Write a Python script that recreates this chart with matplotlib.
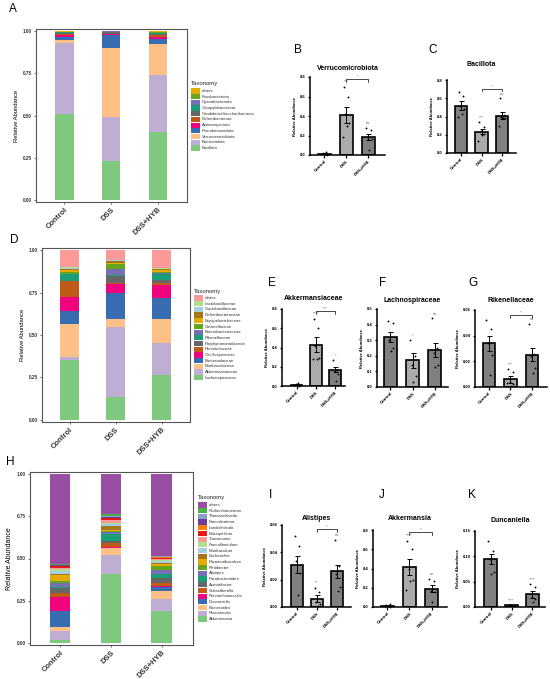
import numpy as np
import matplotlib.pyplot as plt
from matplotlib.patches import Rectangle

plt.rcParams['font.family'] = ['Liberation Sans', 'DejaVu Sans']

W, H = 550, 679
fig = plt.figure(figsize=(W / 100, H / 100), dpi=100)


def box(l, t, r, b):
    # pixel box -> figure fraction
    return [l / W, 1 - b / H, (r - l) / W, (b - t) / H]


groups = ['Control', 'DSS', 'DSS+HYB']

# ---- stacked composition data (bottom -> top) ----
phylum_taxa = ['Bacillota', 'Bacteroidota', 'Verrucomicrobiota', 'Pseudomonadota',
               'Actinomycetota', 'Deferribacterota', 'CandidatusSaccharibacteria',
               'Campylobacterota', 'Cyanobacteriota', 'Fusobacteriota', 'others']
phylum_ctrl = [0.51, 0.42, 0.015, 0.02, 0.01, 0.008, 0.005, 0.004, 0.003, 0.002, 0.003]
phylum_dss = [0.23, 0.26, 0.41, 0.075, 0.006, 0.004, 0.008, 0.003, 0.002, 0.001, 0.001]
phylum_hyb = [0.40, 0.34, 0.185, 0.03, 0.012, 0.008, 0.005, 0.008, 0.002, 0.002, 0.008]

family_taxa = ['Lachnospiraceae', 'Akkermansiaceae', 'Muribaculaceae', 'Bacteroidaceae',
               'Oscillospiraceae', 'Prevotellaceae', 'Porphyromonadaceae', 'Rikenellaceae',
               'Enterobacteriaceae', 'Sutterellaceae', 'Erysipelotrichaceae',
               'Deferribacteraceae', 'Coprobacillaceae', 'Lactobacillaceae', 'others']
family_ctrl = [0.355, 0.015, 0.195, 0.078, 0.078, 0.094, 0.005, 0.037, 0.003, 0.008,
               0.015, 0.008, 0.004, 0.005, 0.10]
family_dss = [0.135, 0.415, 0.045, 0.155, 0.05, 0.008, 0.04, 0.008, 0.03, 0.03,
              0.01, 0.008, 0.006, 0.004, 0.056]
family_hyb = [0.265, 0.187, 0.145, 0.12, 0.077, 0.011, 0.02, 0.033, 0.005, 0.006,
              0.012, 0.005, 0.004, 0.003, 0.107]

genus_taxa = ['Akkermansia', 'Phocaeicola', 'Bacteroides', 'Duncaniella', 'Prevotellamassilia',
              'Schaedlerella', 'Acetatifactor', 'Parabacteroides', 'Alistipes', 'Flintibacter',
              'Paramuribaculum', 'Escherichia', 'Muribaculum', 'Faecalibaculum', 'Turicimonas',
              'Mucispirillum', 'Laedolimicola', 'Faecalicatena', 'Thomasclavelia',
              'Ruthenibacterium', 'others']
genus_ctrl = [0.015, 0.055, 0.022, 0.095, 0.085, 0.022, 0.03, 0.005, 0.028, 0.01, 0.035,
              0.005, 0.018, 0.012, 0.008, 0.008, 0.004, 0.003, 0.003, 0.002, 0.535]
genus_dss = [0.41, 0.113, 0.037, 0.003, 0.003, 0.025, 0.01, 0.045, 0.008, 0.01, 0.006,
             0.025, 0.008, 0.006, 0.02, 0.008, 0.004, 0.006, 0.007, 0.01, 0.236]
genus_hyb = [0.19, 0.07, 0.045, 0.028, 0.002, 0.02, 0.028, 0.026, 0.023, 0.023, 0.012,
             0.005, 0.012, 0.008, 0.004, 0.006, 0.004, 0.003, 0.004, 0.002, 0.485]

# colours
base_cols = ['#7FC97F', '#BEAED4', '#FDC086', '#386CB0', '#F0027F', '#BF5B17', '#666666',
             '#1B9E77', '#7570B3', '#66A61E', '#E6AB02', '#A6761D']
phylum_cols = base_cols[:11]
family_cols = base_cols + ['#A6CEE3', '#B2DF8A', '#FB9A99']
genus_cols = base_cols + ['#A6CEE3', '#B2DF8A', '#FB9A99', '#E31A1C', '#FF7F00',
                          '#6A3D9A', '#8DA0CB', '#4DAF4A', '#984EA3']

# ---- bar panel data: means, SEM, individual points ----
verru_mean = [0.015, 0.41, 0.185]
verru_sem = [0.006, 0.085, 0.035]
verru_pts = [[0.01, 0.03, 0.02, 0.005, 0.015],
             [0.70, 0.60, 0.42, 0.33, 0.30, 0.18],
             [0.28, 0.26, 0.17, 0.16, 0.05]]

bacil_mean = [0.52, 0.235, 0.41]
bacil_sem = [0.05, 0.03, 0.04]
bacil_pts = [[0.67, 0.62, 0.52, 0.48, 0.43, 0.40],
             [0.34, 0.28, 0.24, 0.21, 0.20, 0.13],
             [0.60, 0.42, 0.40, 0.38, 0.38, 0.30]]

akkf_mean = [0.015, 0.43, 0.17]
akkf_sem = [0.006, 0.075, 0.025]
akkf_pts = [[0.01, 0.03, 0.02, 0.005, 0.015],
            [0.70, 0.60, 0.42, 0.29, 0.28, 0.28],
            [0.27, 0.17, 0.16, 0.12, 0.05]]

lachno_mean = [0.32, 0.17, 0.24]
lachno_sem = [0.03, 0.045, 0.045]
lachno_pts = [[0.42, 0.41, 0.30, 0.25, 0.23],
              [0.30, 0.20, 0.14, 0.07, 0.03],
              [0.44, 0.25, 0.22, 0.14, 0.13]]

riken_mean = [0.034, 0.006, 0.025]
riken_sem = [0.006, 0.0025, 0.005]
riken_pts = [[0.052, 0.045, 0.034, 0.025, 0.009],
             [0.014, 0.012, 0.004, 0.002, 0.001, 0.003],
             [0.049, 0.026, 0.024, 0.015, 0.011]]

alis_mean = [0.031, 0.006, 0.026]
alis_sem = [0.006, 0.0025, 0.005]
alis_pts = [[0.052, 0.045, 0.034, 0.025, 0.009],
            [0.014, 0.011, 0.004, 0.002, 0.001],
            [0.049, 0.030, 0.024, 0.015, 0.012]]

akk_mean = [0.015, 0.415, 0.19]
akk_sem = [0.006, 0.08, 0.035]
akk_pts = [[0.01, 0.03, 0.02, 0.005, 0.015],
           [0.69, 0.60, 0.40, 0.28, 0.27, 0.18],
           [0.29, 0.27, 0.17, 0.16, 0.05]]

dunc_mean = [0.095, 0.003, 0.025]
dunc_sem = [0.01, 0.001, 0.007]
dunc_pts = [[0.13, 0.11, 0.095, 0.07, 0.065],
            [0.003, 0.002, 0.004],
            [0.045, 0.04, 0.02, 0.015, 0.01]]

bar_cols = ['#808080', '#ababab', '#808080']
dot_offsets = [-0.12, 0.10, -0.04, 0.14, 0.03, -0.15]


def stacked(rect, taxa, ctrl, dss, hyb, colors, ylab_size, ylab_pad):
    ax = fig.add_axes(box(*rect))
    vals = np.array([ctrl, dss, hyb])
    x = np.arange(3)
    bottom = np.zeros(3)
    for i, name in enumerate(taxa):
        ax.bar(x, vals[:, i], bottom=bottom, width=0.4, color=colors[i], linewidth=0)
        bottom += vals[:, i]
    ax.set_xlim(-0.6, 2.62)
    ax.set_ylim(-0.012, 1.012)
    ax.set_yticks([0, 0.25, 0.5, 0.75, 1.0], ['0.00', '0.25', '0.50', '0.75', '1.00'],
                  fontsize=3.3, fontweight='bold')
    ax.set_xticks(x, groups, rotation=45, ha='right', rotation_mode='anchor',
                  fontsize=5.5, fontweight='bold')
    ax.tick_params(length=1.5, width=0.5, pad=1.5, colors='#333333')
    for s in ax.spines.values():
        s.set_color('#555555')
        s.set_linewidth(0.8)
    ax.set_ylabel('Relative Abundance', fontsize=ylab_size, labelpad=ylab_pad)
    return ax


def legend(x, y_title, y_first, taxa, colors, step=5.7):
    fig.text(x / W, 1 - y_title / H, 'Taxonomy', fontsize=4.3, va='center', ha='left',
             color='#222222')
    for k, (name, c) in enumerate(zip(taxa[::-1], colors[::-1])):
        yc = y_first + k * step
        fig.patches.append(Rectangle((x / W, 1 - (yc + 2.5) / H), 9 / W, 5.2 / H,
                                     transform=fig.transFigure, facecolor=c,
                                     edgecolor='none'))
        fig.text((x + 11) / W, 1 - yc / H, name, fontsize=3.1, va='center',
                 color='#333333')


def bar_panel(rect, xlim, ymax, ystep, fmt, title, title_y, means, sems, pts,
              stars, bracket, bracket_y):
    ax = fig.add_axes(box(*rect))
    x = np.arange(3)
    ax.bar(x, means, width=0.6, color=bar_cols, edgecolor='black', linewidth=1.2, zorder=2)
    ax.errorbar(x, means, yerr=sems, fmt='none', ecolor='black', elinewidth=0.7,
                capsize=1.8, capthick=0.7, zorder=3)
    for i in range(3):
        p = np.array(pts[i])
        ax.scatter(x[i] + np.array(dot_offsets[:len(p)]), p, s=1.8, color='black',
                   linewidths=0, zorder=4, clip_on=False)
    ax.set_xlim(*xlim)
    ax.set_ylim(0, ymax)
    ticks = np.arange(0, ymax + ystep / 2, ystep)
    ax.set_yticks(ticks, [fmt.format(t) for t in ticks], fontsize=3, fontweight='bold')
    ax.set_xticks(x, groups, rotation=45, ha='right', rotation_mode='anchor',
                  fontsize=3.2, fontweight='bold')
    ax.tick_params(length=1.8, width=0.9, pad=1.2)
    for s in ['top', 'right']:
        ax.spines[s].set_visible(False)
    for s in ['left', 'bottom']:
        ax.spines[s].set_linewidth(1.1)
    ax.set_ylabel('Relative Abundance', fontsize=3, fontweight='bold', labelpad=2)
    l, t, r, b = rect
    fig.text((l + r) / 2 / W, 1 - title_y / H, title, fontsize=5, fontweight='bold',
             ha='center', va='center')
    for i, s in enumerate(stars):
        if s:
            top = max(max(pts[i]), means[i] + sems[i])
            ax.text(x[i], top + 0.035 * ymax, s, fontsize=3, color='#666666',
                    ha='center', va='bottom', clip_on=False)
    if bracket:
        by = bracket_y * ymax
        ax.plot([1, 1, 2, 2], [by - 0.035 * ymax, by, by, by - 0.035 * ymax],
                color='black', lw=0.5, clip_on=False)
        ax.text(1.5, by + 0.005 * ymax, bracket, fontsize=3, color='#666666',
                ha='center', va='bottom', clip_on=False)
    return ax


def letter(x, y, s):
    fig.text(x / W, 1 - y / H, s, fontsize=8.5, ha='center', va='center')


# ---- row 1 ----
stacked((36, 29, 187, 202), phylum_taxa, phylum_ctrl, phylum_dss, phylum_hyb,
        phylum_cols, 4.2, 3)
legend(191, 83, 91, phylum_taxa, phylum_cols)
letter(13, 9, 'A')

bar_panel((310, 77, 385, 155), (-0.64, 2.75), 0.8, 0.2, '{:.1f}', 'Verrucomicrobiota', 68,
          verru_mean, verru_sem, verru_pts, ['', '***', 'ns'], '*', 0.97)
letter(298, 50, 'B')
bar_panel((447, 80, 516, 153), (-0.68, 2.68), 0.8, 0.2, '{:.1f}', 'Bacillota', 64,
          bacil_mean, bacil_sem, bacil_pts, ['', '***', 'ns'], '*', 0.88)
letter(433, 50, 'C')

# ---- row 2 ----
stacked((42, 248, 190, 422), family_taxa, family_ctrl, family_dss, family_hyb,
        family_cols, 4.2, 3)
legend(194, 291, 298, family_taxa, family_cols)
letter(14, 240, 'D')

bar_panel((282, 309, 345, 386), (-0.75, 2.5), 0.8, 0.2, '{:.1f}', 'Akkermansiaceae', 298,
          akkf_mean, akkf_sem, akkf_pts, ['', '****', '*'], '***', 0.97)
letter(272, 283, 'E')
bar_panel((377, 309, 448, 387), (-0.6, 2.6), 0.5, 0.1, '{:.1f}', 'Lachnospiraceae', 300,
          lachno_mean, lachno_sem, lachno_pts, ['', '*', 'ns'], '', 0)
letter(383, 283, 'F')
bar_panel((475, 310, 547, 387), (-0.65, 2.7), 0.06, 0.02, '{:.2f}', 'Rikenellaceae', 300,
          riken_mean, riken_sem, riken_pts, ['', '***', 'ns'], '*', 0.93)
letter(473, 283, 'G')

# ---- row 3 ----
stacked((30, 472, 193, 645), genus_taxa, genus_ctrl, genus_dss, genus_hyb,
        genus_cols, 5, 3)
legend(198, 498, 505, genus_taxa, genus_cols)
letter(10, 462, 'H')

bar_panel((282, 525, 351, 607), (-0.75, 2.7), 0.06, 0.02, '{:.2f}', 'Alistipes', 519,
          alis_mean, alis_sem, alis_pts, ['', '**', 'ns'], '*', 0.95)
letter(270, 495, 'I')
bar_panel((373, 530, 447, 607), (-0.65, 2.7), 0.8, 0.2, '{:.1f}', 'Akkermansia', 519,
          akk_mean, akk_sem, akk_pts, ['', '****', 'ns'], '*', 0.97)
letter(382, 495, 'J')
bar_panel((475, 531, 545, 607), (-0.75, 2.6), 0.15, 0.05, '{:.2f}', 'Duncaniella', 521,
          dunc_mean, dunc_sem, dunc_pts, ['', '****', '****'], '', 0)
letter(472, 495, 'K')

fig.savefig('out.png', dpi=100)
